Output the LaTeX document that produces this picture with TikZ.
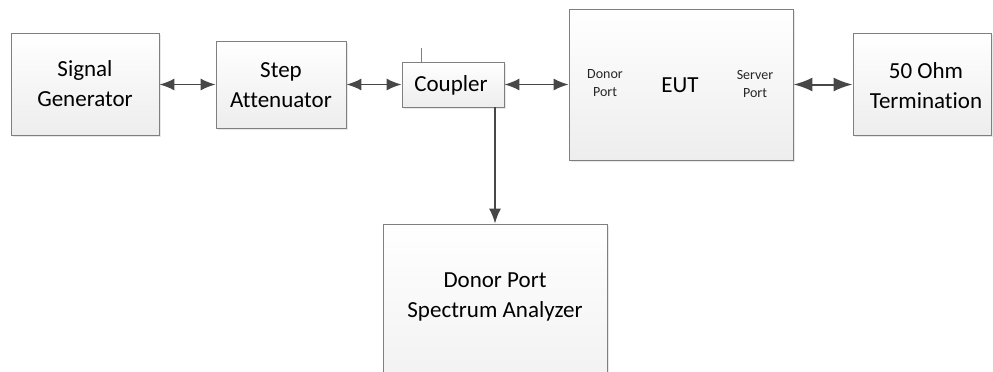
\documentclass[tikz,border=0pt]{standalone}
\usepackage{fontspec}
\setmainfont[Ligatures=NoCommon]{Carlito}
\usetikzlibrary{arrows.meta, shadows}

\definecolor{boxline}{HTML}{7F7F7F}
\definecolor{wire}{HTML}{474747}

\tikzset{
    blockbox/.style={draw=boxline, line width=0.9pt, top color=white, bottom color=gray!14,
        drop shadow={opacity=0.18, shadow xshift=1.5pt, shadow yshift=-1.5pt},
        align=center, inner sep=0pt, font=\fontsize{23}{30}\selectfont},
    wirelink/.style={draw=wire, line width=1.5pt, {Latex[length=15pt, width=12pt]}-{Latex[length=15pt, width=12pt]}},
    widelink/.style={draw=wire, line width=2pt, {Latex[length=19pt, width=14pt]}-{Latex[length=19pt, width=14pt]}},
    portlabel/.style={align=center, font=\fontsize{14}{18}\selectfont, text=black!85},
    boxlabel/.style={align=center, font=\fontsize{23}{30}\selectfont}
}

\begin{document}
\begin{tikzpicture}[x=1pt, y=-1pt]
    \useasboundingbox (0,0) rectangle (993,372);
    \clip (0,0) rectangle (993,372);

%%% blocks of the test set-up
\node[blockbox, minimum width=148pt, minimum height=102pt] (siggen) at (85,84.5) {};
\node[blockbox, minimum width=130pt, minimum height=87pt] (stepatt) at (281,84.5) {};
\node[blockbox, minimum width=102pt, minimum height=45pt] (coupler) at (453,84.5) {};
\node[blockbox, minimum width=224pt, minimum height=151pt] (eut) at (681,84.5) {};
\node[blockbox, minimum width=138pt, minimum height=102pt] (term) at (922,84.5) {};
\node[blockbox, minimum width=224pt, minimum height=210pt] (analyzer) at (495,329) {};

% texts of the boxes
\node[boxlabel] (siggenlabel) at (85,84) {Signal\\Generator};
\node[boxlabel] (stepattlabel) at (281,85) {Step\\Attenuator};
\node[boxlabel] (couplerlabel) at (451,85.5) {Coupler};
\node[portlabel] (donorport) at (605,83) {Donor\\Port};
\node[boxlabel] (eutlabel) at (680,85) {EUT};
\node[portlabel] (serverport) at (755,84) {Server\\Port};
\node[boxlabel] (termlabel) at (926,86) {50 Ohm\\Termination};
\node[boxlabel] (analyzerlabel) at (495,297) {Donor Port\\Spectrum Analyzer};

% coupled port stub
\coordinate (stub) at (421,48);
\draw[boxline, line width=0.8pt] (stub) -- (stub |- coupler.north);

% draw links
\draw[wirelink] (siggen.east |- stepatt.west) -- (stepatt.west);
\draw[wirelink] (stepatt.east) -- (coupler.west);
\draw[wirelink] (coupler.east) -- (eut.west);
\draw[widelink] (eut.east) -- (term.west);
\draw[draw=wire, line width=1.5pt, -{Latex[length=15pt, width=12pt]}] (coupler.south -| analyzer.north) -- (analyzer.north);

\end{tikzpicture}
\end{document}
